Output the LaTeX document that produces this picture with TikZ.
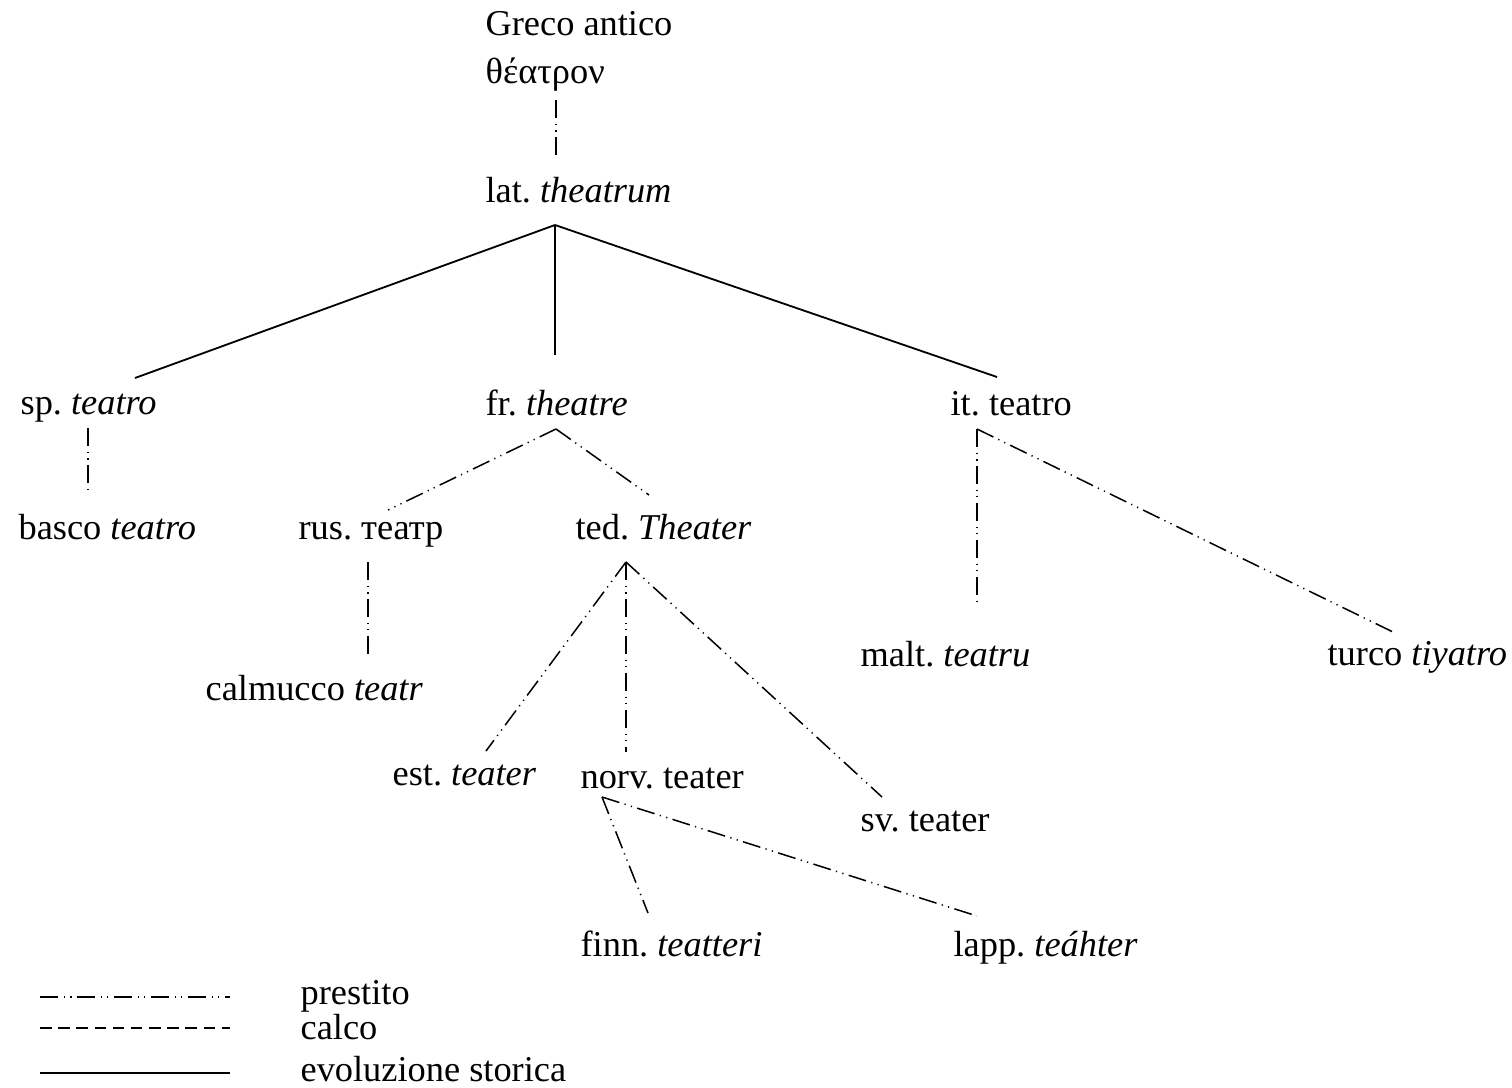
\documentclass[tikz,border=0pt]{standalone}
\usepackage{fontspec}
\setmainfont{Liberation Serif}
\usepackage{tikz}
\frenchspacing

\tikzset{
  word/.style={anchor=base west, inner sep=0pt},
  prestito/.style={line width=0.5pt, dash pattern=on 6pt off 1.8pt on 0.4pt off 1.8pt on 0.4pt off 1.8pt},
  calco/.style={line width=0.5pt, dash pattern=on 3.8pt off 2.2pt},
  storica/.style={line width=0.6pt}
}

\begin{document}
\begin{tikzpicture}[x=0.33pt, y=-0.33pt, font=\fontsize{12pt}{14pt}\selectfont]
\useasboundingbox (0,0) rectangle (1512,1088);

% words
\node[word] (greco) at (485,36) {Greco antico};
\node[word] (theatron) at (485,84) {θέατρον};
\node[word] (lat) at (485,203) {lat. \textit{theatrum}};
\node[word] (sp) at (20,414) {sp. \textit{teatro}};
\node[word] (fr) at (485,415) {fr. \textit{theatre}};
\node[word] (it) at (950,415) {it. teatro};
\node[word] (basco) at (18,539) {basco \textit{teatro}};
\node[word] (rus) at (298,539) {rus. театр};
\node[word] (ted) at (575,539) {ted. \textit{Theater}};
\node[word] (calmucco) at (205,700) {calmucco \textit{teatr}};
\node[word] (malt) at (860,666) {malt. \textit{teatru}};
\node[word] (turco) at (1327,665) {turco \textit{tiyatro}};
\node[word] (est) at (392,785) {est. \textit{teater}};
\node[word] (norv) at (580,788) {norv. teater};
\node[word] (sv) at (860,831) {sv. teater};
\node[word] (finn) at (580,956) {finn. \textit{teatteri}};
\node[word] (lapp) at (953,956) {lapp. \textit{teáhter}};

% historical evolution
\draw[storica] ([shift={(70,22)}]lat.base west) -- ([shift={(115,-36)}]sp.base west);
\draw[storica] ([shift={(70,22)}]lat.base west) -- ([shift={(70,-60)}]fr.base west);
\draw[storica] ([shift={(70,22)}]lat.base west) -- ([shift={(47,-38)}]it.base west);

% loans
\draw[prestito] ([shift={(71,16)}]theatron.base west) -- ([shift={(71,-46)}]lat.base west);
\draw[prestito] ([shift={(68,14)}]sp.base west) -- ([shift={(70,-44)}]basco.base west);
\draw[prestito] ([shift={(71,14)}]fr.base west) -- ([shift={(90,-29)}]rus.base west);
\draw[prestito] ([shift={(71,14)}]fr.base west) -- ([shift={(74,-44)}]ted.base west);
\draw[prestito] ([shift={(70,23)}]rus.base west) -- ([shift={(163,-43)}]calmucco.base west);
\draw[prestito] ([shift={(51,23)}]ted.base west) -- ([shift={(94,-34)}]est.base west);
\draw[prestito] ([shift={(51,23)}]ted.base west) -- ([shift={(46,-36)}]norv.base west);
\draw[prestito] ([shift={(51,23)}]ted.base west) -- ([shift={(22,-34)}]sv.base west);
\draw[prestito] ([shift={(27,14)}]it.base west) -- ([shift={(117,-59)}]malt.base west);
\draw[prestito] ([shift={(27,14)}]it.base west) -- ([shift={(68,-32)}]turco.base west);
\draw[prestito] ([shift={(22,9)}]norv.base west) -- ([shift={(68,-43)}]finn.base west);
\draw[prestito] ([shift={(22,9)}]norv.base west) -- ([shift={(24,-40)}]lapp.base west);

% legend
\node[word] (lgprestito) at (300,1004) {prestito};
\node[word] (lgcalco) at (300,1039) {calco};
\node[word] (lgstorica) at (300,1081) {evoluzione storica};
\draw[prestito] ([shift={(-260,-7)}]lgprestito.base west) -- ++(190,0);
\draw[calco] ([shift={(-260,-11)}]lgcalco.base west) -- ++(190,0);
\draw[storica] ([shift={(-260,-8)}]lgstorica.base west) -- ++(190,0);
\end{tikzpicture}
\end{document}
